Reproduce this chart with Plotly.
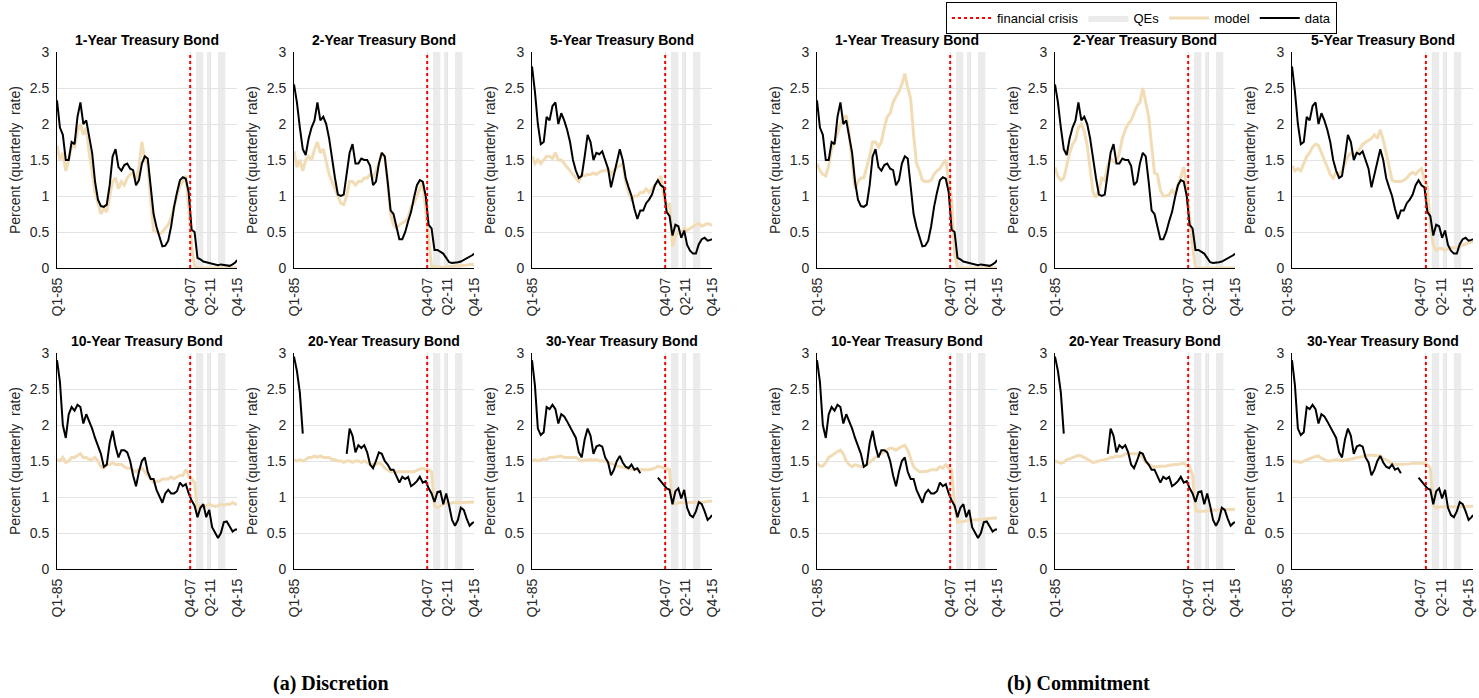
import plotly.graph_objects as go

# Quarter positions (0 = Q1-1985, 123 = Q4-2015), sampled every two quarters
quarter_index = list(range(0, 123, 2)) + [123]
tick_positions = [0, 91, 105, 123]
tick_labels = ["Q1-85", "Q4-07", "Q2-11", "Q4-15"]
crisis_quarter = 91
qe_start = [95, 102.5, 110]
qe_end = [100, 104.5, 115]

maturities = ["1-Year", "2-Year", "5-Year", "10-Year", "20-Year", "30-Year"]

# Observed yields (percent, quarterly rate); None marks periods without issuance
data_1y = [2.33, 1.95, 1.85, 1.5, 1.5, 1.75, 1.72, 2.1, 2.3, 2.0,
           2.05, 1.85, 1.6, 1.2, 0.95, 0.86, 0.85, 0.88, 1.15, 1.55,
           1.65, 1.4, 1.35, 1.43, 1.45, 1.38, 1.36, 1.15, 1.22, 1.45,
           1.55, 1.52, 1.1, 0.75, 0.57, 0.42, 0.3, 0.31, 0.38, 0.58,
           0.85, 1.05, 1.22, 1.26, 1.24, 1.05, 0.53, 0.5, 0.14, 0.12,
           0.09, 0.08, 0.07, 0.06, 0.05, 0.04, 0.05, 0.04, 0.03, 0.03,
           0.05, 0.08, 0.11]
data_2y = [2.55, 2.3, 1.95, 1.65, 1.57, 1.8, 1.95, 2.05, 2.3, 2.05,
           2.1, 2.0, 1.8, 1.5, 1.25, 1.02, 1.0, 1.02, 1.3, 1.6,
           1.72, 1.45, 1.45, 1.52, 1.5, 1.5, 1.42, 1.15, 1.2, 1.45,
           1.6, 1.55, 1.2, 0.8, 0.75, 0.55, 0.4, 0.4, 0.5, 0.65,
           0.78, 0.98, 1.15, 1.22, 1.2, 1.0, 0.6, 0.55, 0.25, 0.25,
           0.22, 0.2, 0.14, 0.08, 0.07, 0.07, 0.08, 0.09, 0.11, 0.13,
           0.16, 0.18, 0.2]
data_5y = [2.8, 2.45, 2.0, 1.72, 1.75, 2.1, 2.05, 2.25, 2.3, 2.0,
           2.15, 2.05, 1.92, 1.75, 1.5, 1.35, 1.25, 1.28, 1.55, 1.85,
           1.75, 1.5, 1.6, 1.58, 1.62, 1.5, 1.38, 1.12, 1.3, 1.5,
           1.65, 1.5, 1.25, 1.12, 1.0, 0.82, 0.68, 0.8, 0.8, 0.9,
           0.95, 1.02, 1.15, 1.22, 1.15, 1.12, 0.78, 0.72, 0.45, 0.6,
           0.58, 0.42, 0.52, 0.32, 0.24, 0.2, 0.2, 0.33, 0.4, 0.42,
           0.38, 0.39, 0.4]
data_10y = [2.9, 2.6, 2.0, 1.82, 2.15, 2.25, 2.2, 2.28, 2.25, 2.02,
            2.15, 2.05, 1.95, 1.82, 1.7, 1.6, 1.42, 1.45, 1.75, 1.92,
            1.7, 1.55, 1.65, 1.65, 1.62, 1.5, 1.3, 1.15, 1.35, 1.5,
            1.55, 1.35, 1.25, 1.25, 1.1, 1.0, 0.92, 1.05, 1.1, 1.05,
            1.05, 1.08, 1.2, 1.15, 1.18, 1.05, 0.95, 0.88, 0.72, 0.85,
            0.9, 0.72, 0.82, 0.58, 0.5, 0.43, 0.5, 0.65, 0.66, 0.58,
            0.52, 0.55, 0.55]
data_20y = [2.95, 2.75, 2.45, 1.88, None, None, None, None, None, None,
            None, None, None, None, None, None, None, None, 1.6, 1.95,
            1.85, 1.62, 1.72, 1.68, 1.72, 1.62, 1.45, 1.4, 1.5, 1.62,
            1.6, 1.5, 1.45, 1.38, 1.38, 1.3, 1.2, 1.28, 1.25, 1.28,
            1.15, 1.18, 1.22, 1.28, 1.2, 1.22, 1.12, 1.05, 0.93, 1.07,
            1.08, 0.9, 1.05, 0.88, 0.68, 0.6, 0.68, 0.85, 0.82, 0.7,
            0.6, 0.64, 0.65]
data_30y = [2.9, 2.55, 1.95, 1.86, 1.9, 2.25, 2.22, 2.28, 2.22, 2.02,
            2.15, 2.12, 2.05, 1.98, 1.9, 1.82, 1.62, 1.55, 1.8, 1.95,
            1.85, 1.6, 1.7, 1.72, 1.7, 1.55, 1.48, 1.3, 1.38, 1.5,
            1.57, 1.48, 1.42, 1.4, 1.45, 1.38, 1.4, 1.33, None, None,
            None, None, None, 1.27, 1.22, 1.18, 1.12, 1.1, 0.9, 1.08,
            1.12, 0.98, 1.1, 0.85, 0.75, 0.72, 0.8, 0.93, 0.9, 0.8,
            0.68, 0.72, 0.75]

# Model-implied yields under discretion
disc_1y = [1.7, 1.5, 1.6, 1.35, 1.5, 1.7, 1.68, 1.9, 2.0, 1.85,
           1.95, 1.6, 1.35, 1.05, 0.9, 0.75, 0.82, 0.78, 1.0, 1.2,
           1.25, 1.1, 1.2, 1.15, 1.25, 1.3, 1.32, 1.22, 1.4, 1.75,
           1.5, 1.45, 0.95, 0.52, 0.5, 0.47, 0.5, 0.55, 0.6, 0.7,
           0.85, 1.0, 1.15, 1.2, 1.28, 0.85, 0.3, 0.03, 0.0, 0.0,
           0.0, 0.0, 0.0, 0.0, 0.0, 0.0, 0.0, 0.0, 0.0, 0.0,
           0.0, 0.0, 0.0]
disc_2y = [1.62, 1.4, 1.5, 1.35, 1.5, 1.55, 1.5, 1.65, 1.75, 1.6,
           1.65, 1.45, 1.3, 1.2, 1.1, 1.0, 0.9, 0.88, 1.0, 1.2,
           1.2, 1.15, 1.2, 1.2, 1.25, 1.25, 1.3, 1.25, 1.35, 1.45,
           1.6, 1.55, 1.2, 0.75, 0.6, 0.55, 0.6, 0.63, 0.65, 0.7,
           0.85, 0.9, 1.0, 1.1, 1.2, 0.8, 0.4, 0.02, 0.02, 0.01,
           0.01, 0.01, 0.02, 0.02, 0.02, 0.03, 0.03, 0.03, 0.03, 0.04,
           0.05, 0.05, 0.05]
disc_5y = [1.55, 1.45, 1.5, 1.45, 1.5, 1.55, 1.55, 1.52, 1.6, 1.5,
           1.5, 1.45, 1.4, 1.35, 1.3, 1.25, 1.2, 1.3, 1.28, 1.3,
           1.3, 1.32, 1.3, 1.33, 1.35, 1.35, 1.38, 1.3, 1.35, 1.4,
           1.42, 1.45, 1.2, 1.05, 0.95, 1.0, 1.0, 1.05, 1.05, 1.1,
           1.05, 1.1, 1.15, 1.2, 1.28, 1.0, 0.85, 0.9, 0.3, 0.45,
           0.5, 0.5, 0.55, 0.52, 0.55, 0.58, 0.6, 0.62, 0.58, 0.6,
           0.62, 0.6, 0.6]
disc_10y = [1.52, 1.5, 1.55, 1.48, 1.5, 1.55, 1.55, 1.58, 1.6, 1.55,
            1.55, 1.52, 1.52, 1.55, 1.5, 1.42, 1.4, 1.45, 1.45, 1.48,
            1.45, 1.45, 1.45, 1.42, 1.4, 1.4, 1.38, 1.35, 1.38, 1.4,
            1.35, 1.3, 1.25, 1.2, 1.22, 1.22, 1.25, 1.25, 1.25, 1.28,
            1.25, 1.28, 1.3, 1.3, 1.38, 1.3, 1.25, 1.2, 0.8, 0.88,
            0.85, 0.88, 0.9, 0.88, 0.87, 0.88, 0.9, 0.88, 0.9, 0.9,
            0.92, 0.9, 0.9]
disc_20y = [1.52, 1.5, 1.52, 1.5, 1.52, 1.55, 1.55, 1.57, 1.55, 1.57,
            1.55, 1.55, 1.55, 1.52, 1.52, 1.5, 1.5, 1.48, 1.5, 1.5,
            1.48, 1.5, 1.5, 1.48, 1.5, 1.48, 1.45, 1.45, 1.45, 1.48,
            1.45, 1.4, 1.38, 1.35, 1.35, 1.35, 1.35, 1.35, 1.35, 1.35,
            1.35, 1.35, 1.37, 1.38, 1.4, 1.38, 1.38, 1.35, 0.88, 0.85,
            0.88, 0.9, 0.92, 0.9, 0.92, 0.92, 0.92, 0.93, 0.92, 0.93,
            0.93, 0.93, 0.93]
disc_30y = [1.5, 1.52, 1.5, 1.52, 1.53, 1.52, 1.55, 1.55, 1.56, 1.56,
            1.57, 1.55, 1.55, 1.54, 1.55, 1.55, 1.52, 1.5, 1.51, 1.52,
            1.52, 1.51, 1.52, 1.5, 1.5, 1.5, 1.48, 1.47, 1.45, 1.43,
            1.42, 1.42, 1.4, 1.39, 1.38, 1.38, 1.38, 1.38, 1.37, 1.38,
            1.38, 1.39, 1.4, 1.43, 1.42, 1.4, 1.4, 1.38, 0.92, 0.9,
            0.92, 0.92, 0.93, 0.92, 0.93, 0.92, 0.93, 0.93, 0.93, 0.93,
            0.94, 0.94, 0.94]

# Model-implied yields under commitment
comm_1y = [1.45, 1.35, 1.3, 1.28, 1.42, 1.65, 1.75, 1.88, 2.0, 2.08,
           2.12, 1.85, 1.45, 1.1, 1.2, 1.25, 1.25, 1.4, 1.55, 1.75,
           1.75, 1.68, 1.75, 1.95, 2.1, 2.15, 2.3, 2.38, 2.45, 2.55,
           2.7, 2.5, 2.35, 1.85, 1.45, 1.35, 1.22, 1.2, 1.2, 1.22,
           1.3, 1.35, 1.38, 1.45, 1.5, 1.2, 0.95, 0.2, 0.0, 0.0,
           0.0, 0.0, 0.0, 0.0, 0.0, 0.0, 0.0, 0.0, 0.0, 0.0,
           0.0, 0.0, 0.0]
comm_2y = [1.4, 1.27, 1.22, 1.25, 1.42, 1.6, 1.72, 1.78, 1.95, 2.0,
           1.9, 1.7, 1.38, 1.05, 0.98, 1.08, 1.25, 1.22, 1.42, 1.52,
           1.48, 1.47, 1.6, 1.8, 1.92, 2.0, 2.05, 2.15, 2.25, 2.3,
           2.5, 2.3, 2.1, 1.7, 1.32, 1.3, 1.08, 1.0, 1.0, 1.02,
           1.08, 1.02, 1.15, 1.25, 1.4, 1.1, 0.65, 0.3, 0.0, 0.0,
           0.0, 0.0, 0.0, 0.0, 0.0, 0.0, 0.0, 0.0, 0.0, 0.0,
           0.0, 0.0, 0.0]
comm_5y = [1.42, 1.35, 1.38, 1.35, 1.45, 1.55, 1.6, 1.68, 1.72, 1.7,
           1.6, 1.5, 1.4, 1.3, 1.25, 1.33, 1.3, 1.35, 1.45, 1.55,
           1.6, 1.55, 1.6, 1.65, 1.72, 1.75, 1.78, 1.8, 1.85, 1.8,
           1.92, 1.78, 1.6, 1.4, 1.22, 1.2, 1.2, 1.2, 1.22, 1.25,
           1.3, 1.33, 1.3, 1.35, 1.38, 1.22, 1.12, 0.6, 0.32, 0.25,
           0.27, 0.27, 0.25, 0.27, 0.28, 0.28, 0.28, 0.3, 0.32, 0.33,
           0.35, 0.36, 0.36]
comm_10y = [1.47, 1.43, 1.43, 1.48, 1.55, 1.57, 1.6, 1.63, 1.65, 1.6,
            1.5, 1.45, 1.42, 1.45, 1.43, 1.42, 1.44, 1.45, 1.48, 1.52,
            1.55, 1.58, 1.6, 1.63, 1.66, 1.68, 1.67, 1.65, 1.68, 1.7,
            1.72, 1.65, 1.52, 1.42, 1.38, 1.35, 1.35, 1.35, 1.36, 1.38,
            1.38, 1.38, 1.42, 1.4, 1.45, 1.4, 1.38, 0.9, 0.65, 0.65,
            0.66, 0.67, 0.68, 0.68, 0.68, 0.68, 0.69, 0.69, 0.7, 0.7,
            0.7, 0.71, 0.71]
comm_20y = [1.5, 1.48, 1.47, 1.48, 1.52, 1.53, 1.55, 1.57, 1.58, 1.57,
            1.55, 1.52, 1.5, 1.48, 1.49, 1.5, 1.5, 1.52, 1.53, 1.55,
            1.55, 1.57, 1.56, 1.57, 1.6, 1.6, 1.6, 1.6, 1.6, 1.58,
            1.55, 1.48, 1.45, 1.43, 1.42, 1.42, 1.42, 1.43, 1.43, 1.44,
            1.45, 1.45, 1.45, 1.46, 1.47, 1.44, 1.42, 1.3, 0.82, 0.8,
            0.8, 0.8, 0.8, 0.81, 0.82, 0.82, 0.82, 0.82, 0.83, 0.83,
            0.83, 0.83, 0.83]
comm_30y = [1.5, 1.5, 1.49, 1.48, 1.5, 1.52, 1.54, 1.55, 1.56, 1.57,
            1.54, 1.52, 1.5, 1.5, 1.51, 1.52, 1.51, 1.5, 1.51, 1.52,
            1.53, 1.54, 1.55, 1.56, 1.57, 1.58, 1.58, 1.58, 1.58, 1.57,
            1.57, 1.53, 1.52, 1.49, 1.47, 1.45, 1.45, 1.45, 1.45, 1.45,
            1.46, 1.47, 1.47, 1.48, 1.48, 1.47, 1.45, 1.4, 0.88, 0.85,
            0.86, 0.86, 0.86, 0.87, 0.87, 0.87, 0.87, 0.87, 0.87, 0.87,
            0.87, 0.87, 0.87]

observed = [data_1y, data_2y, data_5y, data_10y, data_20y, data_30y]
discretion = [disc_1y, disc_2y, disc_5y, disc_10y, disc_20y, disc_30y]
commitment = [comm_1y, comm_2y, comm_5y, comm_10y, comm_20y, comm_30y]

# ---- layout geometry (pixels) ----
W, H = 1479, 698
col_px = [[(57, 237), (294, 474), (532, 712)],
          [(817, 997), (1055, 1235), (1292, 1473)]]
row_px = [(52, 268), (353, 569)]

MODEL_COLOR = "#f2dcb6"
GRID_COLOR = "#e3e3e3"
QE_COLOR = "#ebebeb"
SANS = "Liberation Sans, Arial, sans-serif"

fig = go.Figure()
annotations = []
shapes = []

# legend-only entries for the event markers
fig.add_trace(go.Scatter(
    x=[None], y=[None], mode="lines", name="financial crisis",
    line=dict(color="red", width=2, dash="dot"), legendrank=1,
    hoverinfo="skip"))
fig.add_trace(go.Scatter(
    x=[None, None], y=[None, None], mode="lines", name="QEs",
    fill="toself", fillcolor=QE_COLOR, line=dict(width=0, color=QE_COLOR),
    legendrank=2, hoverinfo="skip"))

panel = 0
for half, models in enumerate([discretion, commitment]):
    for m in range(6):
        panel += 1
        r, c = divmod(m, 3)
        x0p, x1p = col_px[half][c]
        y0p, y1p = row_px[r]
        sfx = "" if panel == 1 else str(panel)
        xa, ya = "x" + sfx, "y" + sfx
        first = panel == 1
        # keep the last tick label of the outermost column inside the page
        label_shift = -5 if (half == 1 and c == 2) else 0

        fig.add_trace(go.Scatter(
            x=quarter_index, y=models[m], mode="lines", name="model",
            line=dict(color=MODEL_COLOR, width=3), xaxis=xa, yaxis=ya,
            showlegend=first, legendrank=3, hoverinfo="skip"))
        fig.add_trace(go.Scatter(
            x=quarter_index, y=observed[m], mode="lines", name="data",
            line=dict(color="black", width=2), xaxis=xa, yaxis=ya,
            connectgaps=False, showlegend=first, legendrank=4,
            hoverinfo="skip"))

        for qs, qe in zip(qe_start, qe_end):
            shapes.append(dict(
                type="rect", xref=xa, yref=ya + " domain", x0=qs, x1=qe,
                y0=0, y1=1, fillcolor=QE_COLOR, line=dict(width=0),
                layer="below"))
        shapes.append(dict(
            type="line", xref=xa, yref=ya + " domain", x0=crisis_quarter,
            x1=crisis_quarter, y0=0, y1=1,
            line=dict(color="red", width=2, dash="dot"), layer="above"))

        dom_x = [x0p / W, x1p / W]
        dom_y = [1 - y1p / H, 1 - y0p / H]
        fig.update_layout(**{
            ("xaxis" + sfx): dict(
                domain=dom_x, range=[0, 123], tickvals=tick_positions,
                ticktext=tick_labels, tickangle=-90, showgrid=True,
                gridcolor=GRID_COLOR, gridwidth=1, zeroline=False,
                showline=True, linecolor="black", linewidth=1,
                ticks="outside", ticklen=3, tickcolor="rgba(0,0,0,0)",
                tickfont=dict(family=SANS, size=14, color="#262626"),
                ticklabeloverflow="allow", ticklabelshift=label_shift,
                anchor=ya, fixedrange=True, automargin=False),
            ("yaxis" + sfx): dict(
                domain=dom_y, range=[0, 3], tick0=0, dtick=0.5,
                showgrid=True, gridcolor=GRID_COLOR, gridwidth=1,
                zeroline=False, showline=True, linecolor="black",
                linewidth=1, ticks="outside", ticklen=4,
                tickcolor="rgba(0,0,0,0)",
                tickfont=dict(family=SANS, size=14, color="#262626"),
                anchor=xa, fixedrange=True, automargin=False),
        })

        # panel title
        annotations.append(dict(
            text="<b>" + maturities[m] + " Treasury Bond</b>",
            x=(x0p + x1p) / 2 / W, y=1 - (y0p - 12) / H,
            xref="paper", yref="paper", xanchor="center", yanchor="middle",
            showarrow=False, font=dict(family=SANS, size=14, color="black")))
        # y-axis title
        annotations.append(dict(
            text="Percent (quarterly\u00a0 rate)", textangle=-90,
            x=(x0p - 42) / W, y=1 - (y0p + y1p) / 2 / H,
            xref="paper", yref="paper", xanchor="center", yanchor="middle",
            showarrow=False, font=dict(family=SANS, size=14, color="#262626")))

# panel-group captions
for label, cx in [("(a) Discretion", 331), ("(b) Commitment", 1078)]:
    annotations.append(dict(
        text="<b>" + label + "</b>", x=cx / W, y=1 - 683 / H,
        xref="paper", yref="paper", xanchor="center", yanchor="middle",
        showarrow=False,
        font=dict(family="Liberation Serif, DejaVu Serif, serif", size=20,
                  color="black")))

fig.update_layout(
    width=W, height=H,
    margin=dict(l=0, r=0, t=0, b=0, pad=0, autoexpand=False),
    paper_bgcolor="white", plot_bgcolor="white",
    shapes=shapes, annotations=annotations,
    legend=dict(orientation="h", x=946 / W, y=1 - 2 / H, xanchor="left",
                yanchor="top", bgcolor="white", bordercolor="black",
                borderwidth=1, font=dict(family=SANS, size=13, color="black"),
                itemwidth=40, tracegroupgap=0),
)

fig.write_html("out.html")
